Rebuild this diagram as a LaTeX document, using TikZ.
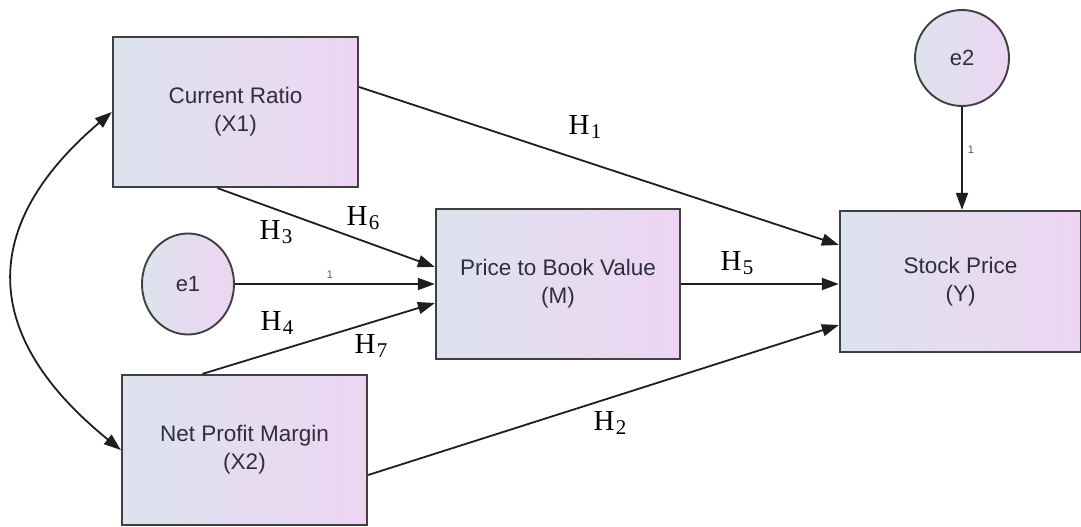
\documentclass[tikz,border=0pt]{standalone}
\usepackage{fontspec}
\setmainfont{Liberation Serif}
\setsansfont{Liberation Sans}
\usetikzlibrary{arrows.meta,shapes.geometric,calc}
\definecolor{boxL}{HTML}{DDE3EE}
\definecolor{boxR}{HTML}{EDD5F2}
\definecolor{txt}{HTML}{2E2E3C}
\definecolor{edgec}{HTML}{404040}
\definecolor{arr}{HTML}{1E1E1E}
\newcommand{\hlab}[1]{H\kern1.5pt\raisebox{-0.3ex}{\fontsize{21}{21}\selectfont #1}}
\tikzset{
  var/.style={draw=edgec, line width=2.3pt, left color=boxL, right color=boxR,
    minimum width=245pt, minimum height=150pt, align=center, inner sep=0pt,
    font=\sffamily\fontsize{22.5}{28}\selectfont, text=txt},
  err/.style={ellipse, draw=edgec, line width=1.9pt, left color=boxL, right color=boxR,
    inner sep=0pt, font=\sffamily\fontsize{22}{26}\selectfont, text=txt},
  conn/.style={draw=arr, line width=1.8pt, -{Triangle[length=17pt,width=12pt]}},
  hl/.style={font=\fontsize{29}{29}\selectfont, text=black, inner sep=0pt},
  one/.style={font=\sffamily\fontsize{11}{11}\selectfont, text=gray!70!black, inner sep=0pt}
}
\begin{document}
\begin{tikzpicture}[x=1pt,y=-1pt]
\useasboundingbox (0,0) rectangle (1081,527);
% variables
\node[var] (cr) at (235.5,112) {Current Ratio\\(X1)};
\node[var] (npm) at (244.5,450) {Net Profit Margin\\(X2)};
\node[var, minimum width=244pt] (pbv) at (558,284) {Price to Book Value\\(M)};
\node[var, minimum width=241pt, minimum height=141pt] (sp) at (960.5,281.5) {Stock Price\\(Y)};
% errors
\node[err, minimum width=92pt, minimum height=101pt] (e1) at (188,284) {e1};
\node[err, minimum width=94pt, minimum height=96pt] (e2) at (962,58) {e2};
% paths
\draw[conn] ([xshift=-18pt]cr.south) -- ([yshift=17pt]pbv.west);
\draw[conn] (e1.east) -- node[one, pos=0.475, above=5pt] (one1) {1} (e1.east -| pbv.west);
\draw[conn] ([xshift=-42pt]npm.north) -- ([yshift=-19pt]pbv.west);
\draw[conn] ([yshift=25pt]cr.east) -- ([yshift=36.5pt]sp.west);
\draw[conn] (pbv.east) -- (pbv.east -| sp.west);
\draw[conn] ([yshift=-25pt]npm.east) -- ([yshift=-43.5pt]sp.west);
\draw[conn] (e2.south) -- node[one, pos=0.42, right=5pt] (one2) {1} (sp.north -| e2.south);
\draw[conn, {Triangle[length=17pt,width=12pt]}-{Triangle[length=17pt,width=12pt]}]
  (cr.west) .. controls (-21,225) and (-21,335) .. (npm.west);
% hypothesis labels
\node[hl] (h1) at (585,127) {\hlab{1}};
\node[hl] (h2) at (610,423) {\hlab{2}};
\node[hl] (h3) at (276,232) {\hlab{3}};
\node[hl] (h4) at (277,323) {\hlab{4}};
\node[hl] (h5) at (737,263) {\hlab{5}};
\node[hl] (h6) at (363,218) {\hlab{6}};
\node[hl] (h7) at (371,346) {\hlab{7}};
\end{tikzpicture}
\end{document}
